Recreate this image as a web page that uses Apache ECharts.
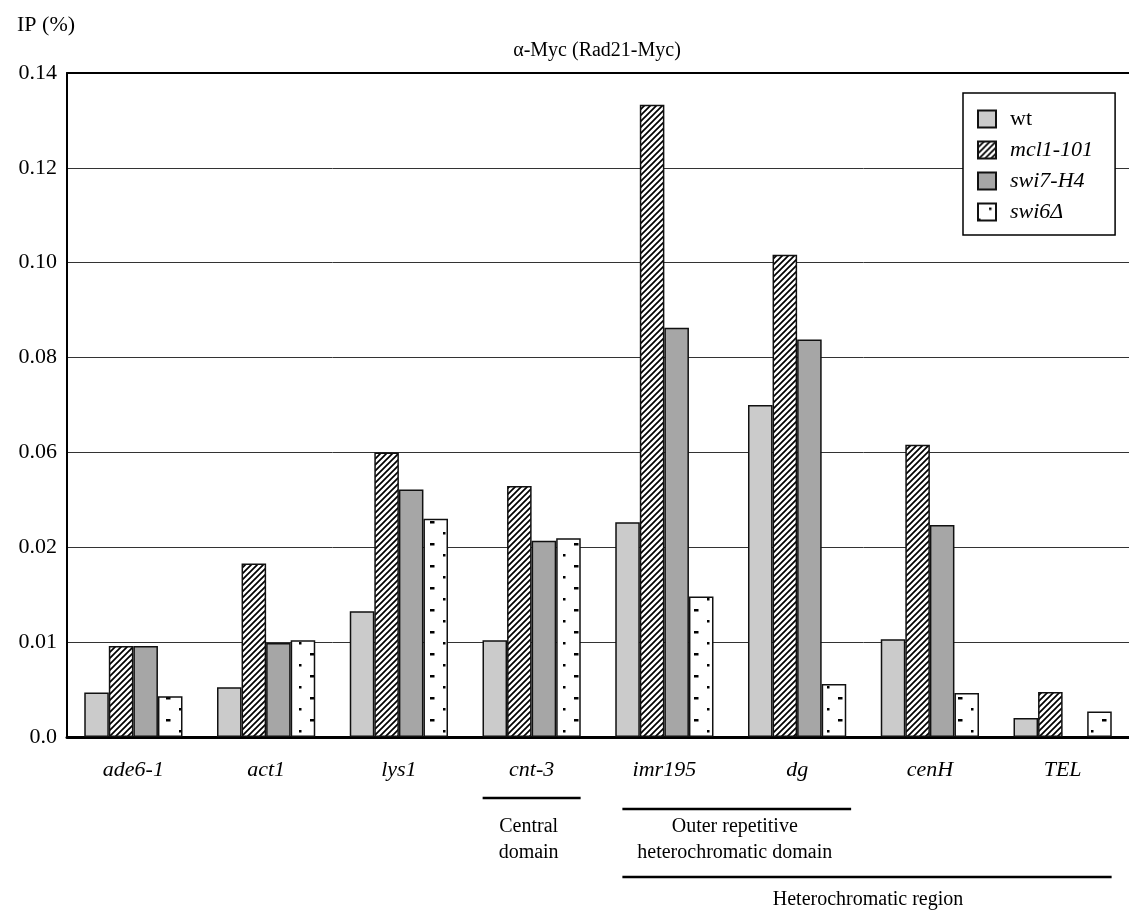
<!DOCTYPE html>
<html>
<head>
<meta charset="utf-8">
<script src="https://cdn.jsdelivr.net/npm/echarts@6/dist/echarts.min.js"></script>
<style>
  html, body { margin: 0; padding: 0; background: #fff; }
  #main { width: 1129px; height: 914px; }
</style>
</head>
<body>
<div id="main"></div>
<script>
// loci on the x axis
var loci = ['ade6-1', 'act1', 'lys1', 'cnt-3', 'imr195', 'dg', 'cenH', 'TEL'];
// IP (%) (in the drawn scale)
var wt     = [0.0094, 0.0105, 0.0265, 0.0204, 0.0453, 0.0700, 0.0206, 0.0040];
var mcl1   = [0.0192, 0.0366, 0.0600, 0.0529, 0.1333, 0.1017, 0.0616, 0.0095];
var swi7   = [0.0192, 0.0198, 0.0522, 0.0414, 0.0863, 0.0838, 0.0447, null];
var swi6   = [0.0086, 0.0204, 0.0460, 0.0419, 0.0296, 0.0112, 0.0093, 0.0054];
// y tick labels as printed in the figure
var yTickLabels = ['0.0', '0.01', '0.02', '0.06', '0.08', '0.10', '0.12', '0.14'];

var serif = '"Liberation Serif", "Times New Roman", serif';

// 斜线填充
function hatchPattern() {
    var c = document.createElement('canvas');
    c.width = 6; c.height = 6;
    var ctx = c.getContext('2d');
    ctx.fillStyle = '#fff';
    ctx.fillRect(0, 0, 6, 6);
    ctx.strokeStyle = '#000';
    ctx.lineWidth = 1.7;
    ctx.beginPath();
    ctx.moveTo(-1, 7); ctx.lineTo(7, -1);
    ctx.moveTo(-4, 4); ctx.lineTo(4, -4);
    ctx.moveTo(2, 10); ctx.lineTo(10, 2);
    ctx.stroke();
    return c;
}
// 点状填充
function dotPattern() {
    var c = document.createElement('canvas');
    c.width = 24; c.height = 22;
    var ctx = c.getContext('2d');
    ctx.fillStyle = '#fff';
    ctx.fillRect(0, 0, 24, 22);
    ctx.fillStyle = '#000';
    ctx.fillRect(11, 4, 2.5, 2.5);
    ctx.fillRect(0, 15, 2.5, 2.5);
    ctx.fillRect(22, 15, 2, 2.5);
    return c;
}

var border = { borderColor: '#111', borderWidth: 1.5 };

var chart = echarts.init(document.getElementById('main'));

function barSeries(name, data, color) {
    return {
        name: name,
        type: 'bar',
        data: data,
        barGap: '0%',
        barCategoryGap: '26%',
        itemStyle: Object.assign({ color: color }, border)
    };
}

chart.setOption({
    animation: false,
    textStyle: { fontFamily: serif, color: '#000' },
    title: {
        text: 'α-Myc (Rad21-Myc)',
        left: 592,
        textAlign: 'center',
        top: 36,
        textStyle: { fontFamily: serif, fontSize: 20, fontWeight: 'normal', color: '#000' }
    },
    grid: { left: 67, right: 0, top: 73, bottom: 177, containLabel: false },
    legend: {
        orient: 'vertical',
        left: 963,
        top: 93,
        padding: [15, 22, 12, 14],
        itemWidth: 18,
        itemHeight: 17,
        itemGap: 9,
        backgroundColor: '#fff',
        borderColor: '#000',
        borderWidth: 1.5,
        borderRadius: 0,
        icon: 'rect',
        z: 10,
        data: ['wt', 'mcl1-101', 'swi7-H4', 'swi6Δ'],
        formatter: function (n) {
            return n === 'wt' ? '{n|' + n + '}' : '{i|' + n + '}';
        },
        textStyle: {
            fontFamily: serif,
            fontSize: 22,
            color: '#000',
            rich: {
                n: { fontFamily: serif, fontSize: 22, padding: [0, 0, 0, 9] },
                i: { fontFamily: serif, fontSize: 22, fontStyle: 'italic', padding: [0, 0, 0, 9] }
            }
        }
    },
    xAxis: [{
        type: 'category',
        data: loci,
        axisLine: { lineStyle: { color: '#000', width: 3 } },
        axisTick: { show: false },
        axisLabel: { fontFamily: serif, fontSize: 22, fontStyle: 'italic', color: '#000', margin: 22 }
    }, {
        type: 'category',
        data: loci,
        position: 'top',
        axisLine: { lineStyle: { color: '#000', width: 2 } },
        axisTick: { show: false },
        axisLabel: { show: false }
    }],
    yAxis: {
        type: 'value',
        min: 0,
        max: 0.14,
        interval: 0.02,
        axisLine: { show: true, lineStyle: { color: '#000', width: 2 } },
        axisTick: { show: false },
        splitLine: { lineStyle: { color: '#333', width: 1 } },
        axisLabel: {
            fontFamily: serif,
            fontSize: 22,
            color: '#000',
            margin: 10,
            formatter: function (v, i) { return yTickLabels[i]; }
        }
    },
    series: [
        barSeries('wt', wt, '#cbcbcb'),
        barSeries('mcl1-101', mcl1, { image: hatchPattern(), repeat: 'repeat' }),
        barSeries('swi7-H4', swi7, '#a6a6a6'),
        barSeries('swi6Δ', swi6, { image: dotPattern(), repeat: 'repeat' })
    ]
});

// 下方的区域标注
function px(name) { return chart.convertToPixel({ xAxisIndex: 0 }, name); }
var half = 49;
var cnt = px('cnt-3'), imr = px('imr195'), dg = px('dg'), tel = px('TEL');
var annoFont = '20px ' + serif;
chart.setOption({
    graphic: [
        { type: 'text', left: 17, top: 14, style: { text: 'IP (%)', font: '22px ' + serif, fill: '#000' } },
        { type: 'line', shape: { x1: cnt - half, y1: 798, x2: cnt + half, y2: 798 }, style: { stroke: '#000', lineWidth: 2.5 } },
        { type: 'line', shape: { x1: imr - 42, y1: 809, x2: dg + 54, y2: 809 }, style: { stroke: '#000', lineWidth: 2.5 } },
        { type: 'line', shape: { x1: imr - 42, y1: 877, x2: tel + 49, y2: 877 }, style: { stroke: '#000', lineWidth: 2.5 } },
        { type: 'text', x: cnt - 3, y: 840, style: { text: 'Central\ndomain', font: annoFont, fill: '#000', textAlign: 'center', textVerticalAlign: 'middle', lineHeight: 26 } },
        { type: 'text', x: (imr + dg) / 2 + 4, y: 840, style: { text: 'Outer repetitive\nheterochromatic domain', font: annoFont, fill: '#000', textAlign: 'center', textVerticalAlign: 'middle', lineHeight: 26 } },
        { type: 'text', x: 868, y: 900, style: { text: 'Heterochromatic region', font: annoFont, fill: '#000', textAlign: 'center', textVerticalAlign: 'middle' } }
    ]
});
</script>
</body>
</html>
